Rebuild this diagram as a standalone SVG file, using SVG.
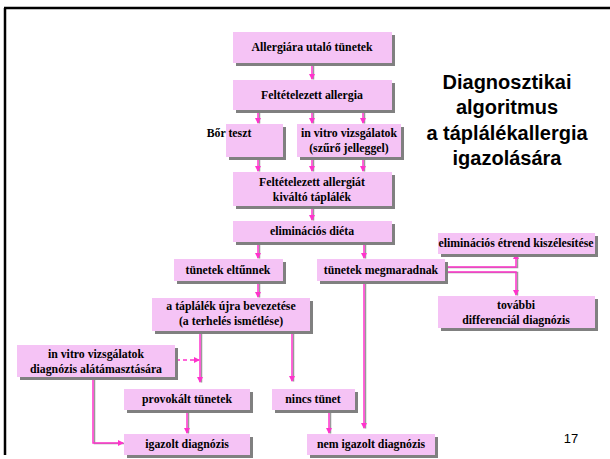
<svg xmlns="http://www.w3.org/2000/svg" width="610" height="459" viewBox="0 0 610 459">
<defs>
<style>
.sh{fill:#808080}
.bx{fill:#f5c3f5}
.t{font-family:"Liberation Serif","Times New Roman",serif;font-weight:bold;font-size:11.8px;fill:#000;text-anchor:middle}
.ti{font-family:"Liberation Sans",Arial,sans-serif;font-weight:bold;font-size:20px;fill:#000;text-anchor:middle}
.c{fill:none;stroke:#ff33cc;stroke-width:1.5}
.cs{fill:none;stroke:#9a9a9a;stroke-width:1.5}
</style>
<marker id="ah" viewBox="0 0 6 6" refX="5" refY="3" markerWidth="6" markerHeight="6" markerUnits="userSpaceOnUse" orient="auto">
<path d="M0,0 L6,3 L0,6 z" fill="#ff33cc"/>
</marker>
</defs>
<rect width="610" height="459" fill="#fff"/>
<path d="M4,8 H610 M5,8 V455" stroke="#000" stroke-width="2.5" fill="none"/>
<g id="title">
<text class="ti" x="507" y="89">Diagnosztikai</text>
<text class="ti" x="507" y="114">algoritmus</text>
<text class="ti" x="507" y="140">a táplálékallergia</text>
<text class="ti" x="507" y="165">igazolására</text>
</g>
<text x="571" y="443" font-family="Liberation Sans, Arial, sans-serif" font-size="13" text-anchor="middle">17</text>
<g id="connectors">
<g transform="translate(1.5,0.5)">
<path class="cs" d="M312,63 V79 M258,110 V123 M312,110 V123 M363,110 V123 M258,157 V171 M312,157 V171 M363,157 V171 M312,206 V220 M258,241 V258 M364,241 V258 M258,281 V297 M200,331 V382 M292,331 V381 M93,377 V443 H123 M187,410 V433 M329,410 V433 M364,281 V428 M445,267 H516 V254 M445,272 H516 V295"/>
</g>
<path class="c" d="M312,63 V79" marker-end="url(#ah)"/>
<path class="c" d="M258,110 V123" marker-end="url(#ah)"/>
<path class="c" d="M312,110 V123" marker-end="url(#ah)"/>
<path class="c" d="M363,110 V123" marker-end="url(#ah)"/>
<path class="c" d="M258,157 V171" marker-end="url(#ah)"/>
<path class="c" d="M312,157 V171" marker-end="url(#ah)"/>
<path class="c" d="M363,157 V171" marker-end="url(#ah)"/>
<path class="c" d="M312,206 V220" marker-end="url(#ah)"/>
<path class="c" d="M258,241 V258" marker-end="url(#ah)"/>
<path class="c" d="M364,241 V258" marker-end="url(#ah)"/>
<path class="c" d="M258,281 V297" marker-end="url(#ah)"/>
<path class="c" d="M200,331 V382" marker-end="url(#ah)"/>
<path class="c" d="M292,331 V381" marker-end="url(#ah)"/>
<path class="c" d="M176,360 H199" stroke-dasharray="4,3" marker-end="url(#ah)"/>
<path class="c" d="M93,377 V443 H123" marker-end="url(#ah)"/>
<path class="c" d="M187,410 V433" marker-end="url(#ah)"/>
<path class="c" d="M329,410 V433" marker-end="url(#ah)"/>
<path class="c" d="M364,281 V428" marker-end="url(#ah)"/>
<path class="c" d="M445,267 H516 V254" marker-end="url(#ah)"/>
<path class="c" d="M445,272 H516 V295" marker-end="url(#ah)"/>
</g>
<g id="n1"><rect class="sh" x="236" y="35" width="159" height="31"/><rect class="bx" x="233" y="32" width="159" height="31"/><text class="t" x="312" y="51">Allergiára utaló tünetek</text></g>
<g id="n2"><rect class="sh" x="236" y="83" width="159" height="30"/><rect class="bx" x="233" y="80" width="159" height="30"/><text class="t" x="312" y="99">Feltételezett allergia</text></g>
<g id="n3"><rect class="sh" x="229" y="127" width="57" height="33"/><rect class="bx" x="226" y="124" width="57" height="33"/><text class="t" x="229" y="137" text-anchor="start">Bőr teszt</text></g>
<g id="n4"><rect class="sh" x="300" y="127" width="104" height="33"/><rect class="bx" x="297" y="124" width="104" height="33"/><text class="t" x="349" y="137">in vitro vizsgálatok</text><text class="t" x="349" y="152">(szűrő jelleggel)</text></g>
<g id="n5"><rect class="sh" x="236" y="175" width="159" height="34"/><rect class="bx" x="233" y="172" width="159" height="34"/><text class="t" x="312" y="186">Feltételezett allergiát</text><text class="t" x="312" y="201">kiváltó táplálék</text></g>
<g id="n6"><rect class="sh" x="236" y="224" width="159" height="21"/><rect class="bx" x="233" y="221" width="159" height="21"/><text class="t" x="312" y="235">eliminációs diéta</text></g>
<g id="n7"><rect class="sh" x="177" y="262" width="109" height="22"/><rect class="bx" x="174" y="259" width="109" height="22"/><text class="t" x="228" y="274">tünetek eltűnnek</text></g>
<g id="n8"><rect class="sh" x="320" y="262" width="128" height="22"/><rect class="bx" x="317" y="259" width="128" height="22"/><text class="t" x="381" y="274">tünetek megmaradnak</text></g>
<g id="n9"><rect class="sh" x="441" y="236" width="157" height="21"/><rect class="bx" x="438" y="233" width="157" height="21"/><text class="t" x="516" y="247">eliminációs étrend kiszélesítése</text></g>
<g id="n10"><rect class="sh" x="155" y="301" width="158" height="33"/><rect class="bx" x="152" y="298" width="158" height="33"/><text class="t" x="231" y="310">a táplálék újra bevezetése</text><text class="t" x="231" y="325">(a terhelés ismétlése)</text></g>
<g id="n11"><rect class="sh" x="441" y="299" width="157" height="32"/><rect class="bx" x="438" y="296" width="157" height="32"/><text class="t" x="516" y="309">további</text><text class="t" x="516" y="324">differenciál diagnózis</text></g>
<g id="n12"><rect class="sh" x="20" y="348" width="158" height="32"/><rect class="bx" x="17" y="345" width="158" height="32"/><text class="t" x="96" y="358">in vitro vizsgálatok</text><text class="t" x="96" y="373">diagnózis alátámasztására</text></g>
<g id="n13"><rect class="sh" x="127" y="392" width="126" height="21"/><rect class="bx" x="124" y="389" width="126" height="21"/><text class="t" x="187" y="403">provokált tünetek</text></g>
<g id="n14"><rect class="sh" x="275" y="392" width="83" height="21"/><rect class="bx" x="272" y="389" width="83" height="21"/><text class="t" x="313" y="403">nincs tünet</text></g>
<g id="n15"><rect class="sh" x="127" y="437" width="126" height="21"/><rect class="bx" x="124" y="434" width="126" height="21"/><text class="t" x="187" y="448">igazolt diagnózis</text></g>
<g id="n16"><rect class="sh" x="310" y="437" width="128" height="21"/><rect class="bx" x="307" y="434" width="128" height="21"/><text class="t" x="371" y="448">nem igazolt diagnózis</text></g>
</svg>
